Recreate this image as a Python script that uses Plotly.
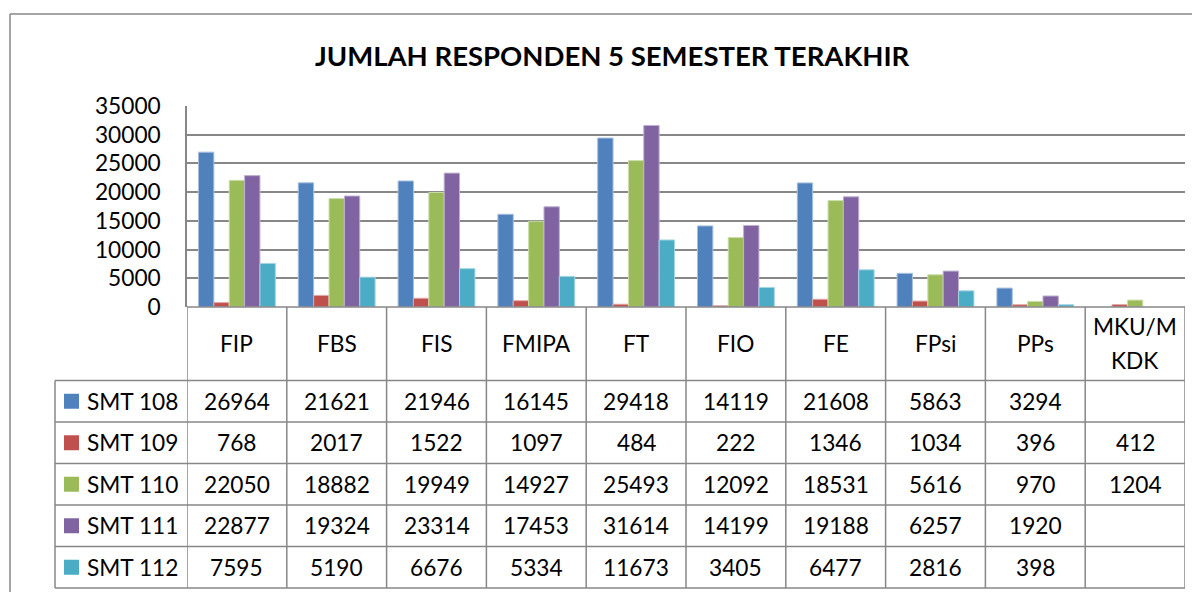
import plotly.graph_objects as go

# ---------------- data ----------------
categories = ["FIP", "FBS", "FIS", "FMIPA", "FT", "FIO", "FE", "FPsi", "PPs", "MKU/MKDK"]
category_labels = ["FIP", "FBS", "FIS", "FMIPA", "FT", "FIO", "FE", "FPsi", "PPs", "MKU/M<br>KDK"]
series_names = ["SMT 108", "SMT 109", "SMT 110", "SMT 111", "SMT 112"]
smt108 = [26964, 21621, 21946, 16145, 29418, 14119, 21608, 5863, 3294, None]
smt109 = [768, 2017, 1522, 1097, 484, 222, 1346, 1034, 396, 412]
smt110 = [22050, 18882, 19949, 14927, 25493, 12092, 18531, 5616, 970, 1204]
smt111 = [22877, 19324, 23314, 17453, 31614, 14199, 19188, 6257, 1920, None]
smt112 = [7595, 5190, 6676, 5334, 11673, 3405, 6477, 2816, 398, None]
y_ticks = [0, 5000, 10000, 15000, 20000, 25000, 30000, 35000]
title_text = "JUMLAH RESPONDEN 5 SEMESTER TERAKHIR"

series_values = [smt108, smt109, smt110, smt111, smt112]

# ---------------- style ----------------
colors = ["#4F81BD", "#C0504D", "#9BBB59", "#8064A2", "#4BACC6"]
edge_colors = ["#A7C0DE", "#E0A8A6", "#CDDDAC", "#BFB1D0", "#A5D5E2"]
grid = "#878787"
FONT = "Lato"
TXT = 22.7
PAGE_W, PAGE_H = 1200, 592
OFF = 8  # default body margin of the html page
W, H = PAGE_W - OFF, PAGE_H - OFF


def fx(px):
    return (px - OFF) / W


def fy(py):
    return 1 - (py - OFF) / H


plot_left, plot_right, plot_top, plot_bottom = 187, 1185, 106, 307
table_left = 55
row_edges = [380.5, 422, 463.5, 505, 546.5, 588]

fig = go.Figure()
for name, vals, c, ec in zip(series_names, series_values, colors, edge_colors):
    fig.add_trace(go.Bar(
        x=categories, y=vals, name=name,
        marker=dict(color=c, line=dict(color=ec, width=1)),
        showlegend=False, hoverinfo="x+y+name",
    ))

shapes = []
line_style = dict(color=grid, width=1.5)
# outer chart border
shapes.append(dict(type="line", xref="paper", yref="paper", x0=fx(10), x1=fx(1200), y0=fy(14), y1=fy(14), line=line_style))
shapes.append(dict(type="line", xref="paper", yref="paper", x0=fx(10), x1=fx(10), y0=fy(14), y1=fy(592), line=line_style))
# table horizontal lines
shapes.append(dict(type="line", xref="paper", yref="paper", x0=fx(plot_left), x1=fx(plot_right), y0=fy(plot_bottom), y1=fy(plot_bottom), line=line_style))
for ry in row_edges:
    shapes.append(dict(type="line", xref="paper", yref="paper", x0=fx(table_left), x1=fx(plot_right), y0=fy(ry), y1=fy(ry), line=line_style))
# table vertical lines at category boundaries
for i in range(len(categories) + 1):
    shapes.append(dict(type="line", xref="x", yref="paper", x0=i - 0.5, x1=i - 0.5, y0=fy(plot_bottom), y1=fy(row_edges[-1]), line=line_style))
shapes.append(dict(type="line", xref="paper", yref="paper", x0=fx(table_left), x1=fx(table_left), y0=fy(row_edges[0]), y1=fy(row_edges[-1]), line=line_style))

annotations = []
annotations.append(dict(text=f"<b>{title_text}</b>", xref="paper", yref="paper", x=fx(612), y=fy(55),
                        showarrow=False, font=dict(family=FONT, size=27.5, color="black"), xanchor="center", yanchor="middle"))
# header row
header_center = (plot_bottom + row_edges[0]) / 2
for i, lab in enumerate(category_labels):
    lines = lab.split("<br>")
    n = len(lines)
    for k, ln in enumerate(lines):
        cy = header_center + (k - (n - 1) / 2) * 34
        annotations.append(dict(text=ln, xref="x", yref="paper", x=i, y=fy(cy), showarrow=False,
                                font=dict(family=FONT, size=TXT, color="black"), xanchor="center", yanchor="middle"))
# data rows
for r, (name, vals, c) in enumerate(zip(series_names, series_values, colors)):
    cy = (row_edges[r] + row_edges[r + 1]) / 2
    shapes.append(dict(type="rect", xref="paper", yref="paper", x0=fx(64), x1=fx(79), y0=fy(cy - 7.5), y1=fy(cy + 7.5),
                       fillcolor=c, line=dict(width=0)))
    annotations.append(dict(text=name, xref="paper", yref="paper", x=fx(85), y=fy(cy), showarrow=False,
                            font=dict(family=FONT, size=TXT, color="black"), xanchor="left", yanchor="middle"))
    for i, v in enumerate(vals):
        if v is None:
            continue
        annotations.append(dict(text=str(v), xref="x", yref="paper", x=i, y=fy(cy), showarrow=False,
                                font=dict(family=FONT, size=TXT, color="black"), xanchor="center", yanchor="middle"))

fig.update_layout(
    width=W, height=H, autosize=False,
    margin=dict(l=0, r=0, t=0, b=0, pad=0, autoexpand=False),
    paper_bgcolor="white", plot_bgcolor="white",
    barmode="group", bargap=0.23, bargroupgap=0,
    font=dict(family=FONT, size=TXT, color="black"),
    xaxis=dict(domain=[fx(plot_left), fx(plot_right)], type="category", categoryorder="array",
               categoryarray=categories, range=[-0.5, len(categories) - 0.5], automargin=False,
               showticklabels=False, showgrid=False, zeroline=False, showline=False, ticks=""),
    yaxis=dict(domain=[fy(plot_bottom), fy(plot_top)], range=[0, 35000], tickvals=y_ticks, automargin=False,
               ticktext=[str(t) for t in y_ticks], showgrid=True, gridcolor=grid, gridwidth=1.5,
               showline=True, linecolor=grid, linewidth=1.5, zeroline=False, ticks="",
               ticklabelstandoff=20, tickfont=dict(family=FONT, size=TXT, color="black")),
    shapes=shapes, annotations=annotations,
)

fig.write_html("out.html")
